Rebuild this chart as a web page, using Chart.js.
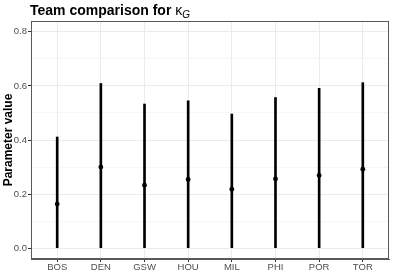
<!DOCTYPE html>
<html>
<head>
<meta charset="utf-8">
<script src="https://cdn.jsdelivr.net/npm/chart.js@4"></script>
<style>
  html, body { margin: 0; padding: 0; background: #ffffff; }
  #wrap { width: 393px; height: 273px; }
</style>
</head>
<body>
<div id="wrap"><canvas id="chart" width="393" height="273"></canvas></div>
<script>
// teams and posterior summaries for kappa_G
const teams = ['BOS', 'DEN', 'GSW', 'HOU', 'MIL', 'PHI', 'POR', 'TOR'];
const estimate = [0.163, 0.300, 0.233, 0.254, 0.218, 0.256, 0.269, 0.292];
const lower = [0, 0, 0, 0, 0, 0, 0, 0];
const upper = [0.411, 0.609, 0.533, 0.545, 0.496, 0.557, 0.591, 0.612];
const yTicks = [0, 0.1, 0.2, 0.3, 0.4, 0.5, 0.6, 0.7, 0.8];

const FONT = "'Liberation Sans', Arial, sans-serif";

const panelBorder = {
    id: 'panelBorder',
    afterDraw(chart) {
        const ctx = chart.ctx;
        const sx = chart.scales.x, sy = chart.scales.y;
        const l = Math.round(sx.left), r = Math.round(sx.right);
        const t = Math.round(sy.top), b = Math.round(sy.bottom);
        ctx.save();
        ctx.fillStyle = '#595959';
        ctx.fillRect(l, t, r - l, 1);
        ctx.fillRect(l, b - 1, r - l, 1);
        ctx.fillRect(l, t, 1, b - t);
        ctx.fillRect(r - 1, t, 1, b - t);
        // title with kappa_G
        ctx.fillStyle = '#000000';
        ctx.textBaseline = 'alphabetic';
        ctx.textAlign = 'left';
        ctx.font = 'bold 14px ' + FONT;
        const title = 'Team comparison for ';
        ctx.fillText(title, 30, 15);
        let x = 30 + ctx.measureText(title).width;
        ctx.font = '14px ' + FONT;
        ctx.fillText('κ', x, 15);
        x += ctx.measureText('κ').width;
        ctx.font = 'italic 10px ' + FONT;
        ctx.fillText('G', x, 18);
        ctx.restore();
    }
};

new Chart(document.getElementById('chart'), {
    data: {
        datasets: [
            {
                type: 'bar',
                data: teams.map((t, i) => ({ x: i, y: [lower[i], upper[i]] })),
                backgroundColor: '#000000',
                barThickness: 2,
                order: 2,
            },
            {
                type: 'scatter',
                data: teams.map((t, i) => ({ x: i, y: estimate[i] })),
                backgroundColor: '#000000',
                borderColor: '#000000',
                borderWidth: 0,
                pointRadius: 2.4,
                order: 1,
            },
        ],
    },
    options: {
        responsive: false,
        animation: false,
        devicePixelRatio: 1,
        layout: { padding: { top: 21, right: 4, left: 0, bottom: 0 } },
        scales: {
            x: {
                type: 'linear',
                offset: false,
                min: -0.6,
                max: 7.6,
                afterBuildTicks: (scale) => { scale.ticks = teams.map((t, i) => ({ value: i })); },
                afterFit: (scale) => { scale.height = 14; },
                ticks: {
                    callback: (v) => teams[v],
                    color: '#4d4d4d',
                    font: { family: FONT, size: 9.5 },
                    padding: 0,
                    maxRotation: 0,
                    autoSkip: false,
                },
                grid: { offset: false, color: '#ebebeb', tickColor: '#333333', tickLength: 3 },
                border: { display: true, color: '#595959', width: 1 },
            },
            y: {
                min: -0.04,
                max: 0.84,
                afterBuildTicks: (scale) => { scale.ticks = yTicks.map((v) => ({ value: v })); },
                afterFit: (scale) => { scale.width = 31; },
                ticks: {
                    callback: (v) => (Math.round(v * 10) % 2 === 0 ? v.toFixed(1) : ''),
                    color: '#4d4d4d',
                    font: { family: FONT, size: 9.5 },
                    padding: 1,
                },
                grid: {
                    color: (c) => (Math.round(c.tick.value * 10) % 2 === 0 ? '#ebebeb' : '#f6f6f6'),
                    tickColor: (c) => (Math.round(c.tick.value * 10) % 2 === 0 ? '#333333' : 'rgba(0,0,0,0)'),
                    tickLength: 3,
                },
                border: { display: true, color: '#595959', width: 1 },
                title: {
                    display: true,
                    text: 'Parameter value',
                    color: '#000000',
                    font: { family: FONT, size: 12, weight: 'bold' },
                    padding: { top: 1.5, bottom: 0 },
                },
            },
        },
        plugins: {
            legend: { display: false },
            tooltip: { enabled: false },
        },
    },
    plugins: [panelBorder],
});
</script>
</body>
</html>
